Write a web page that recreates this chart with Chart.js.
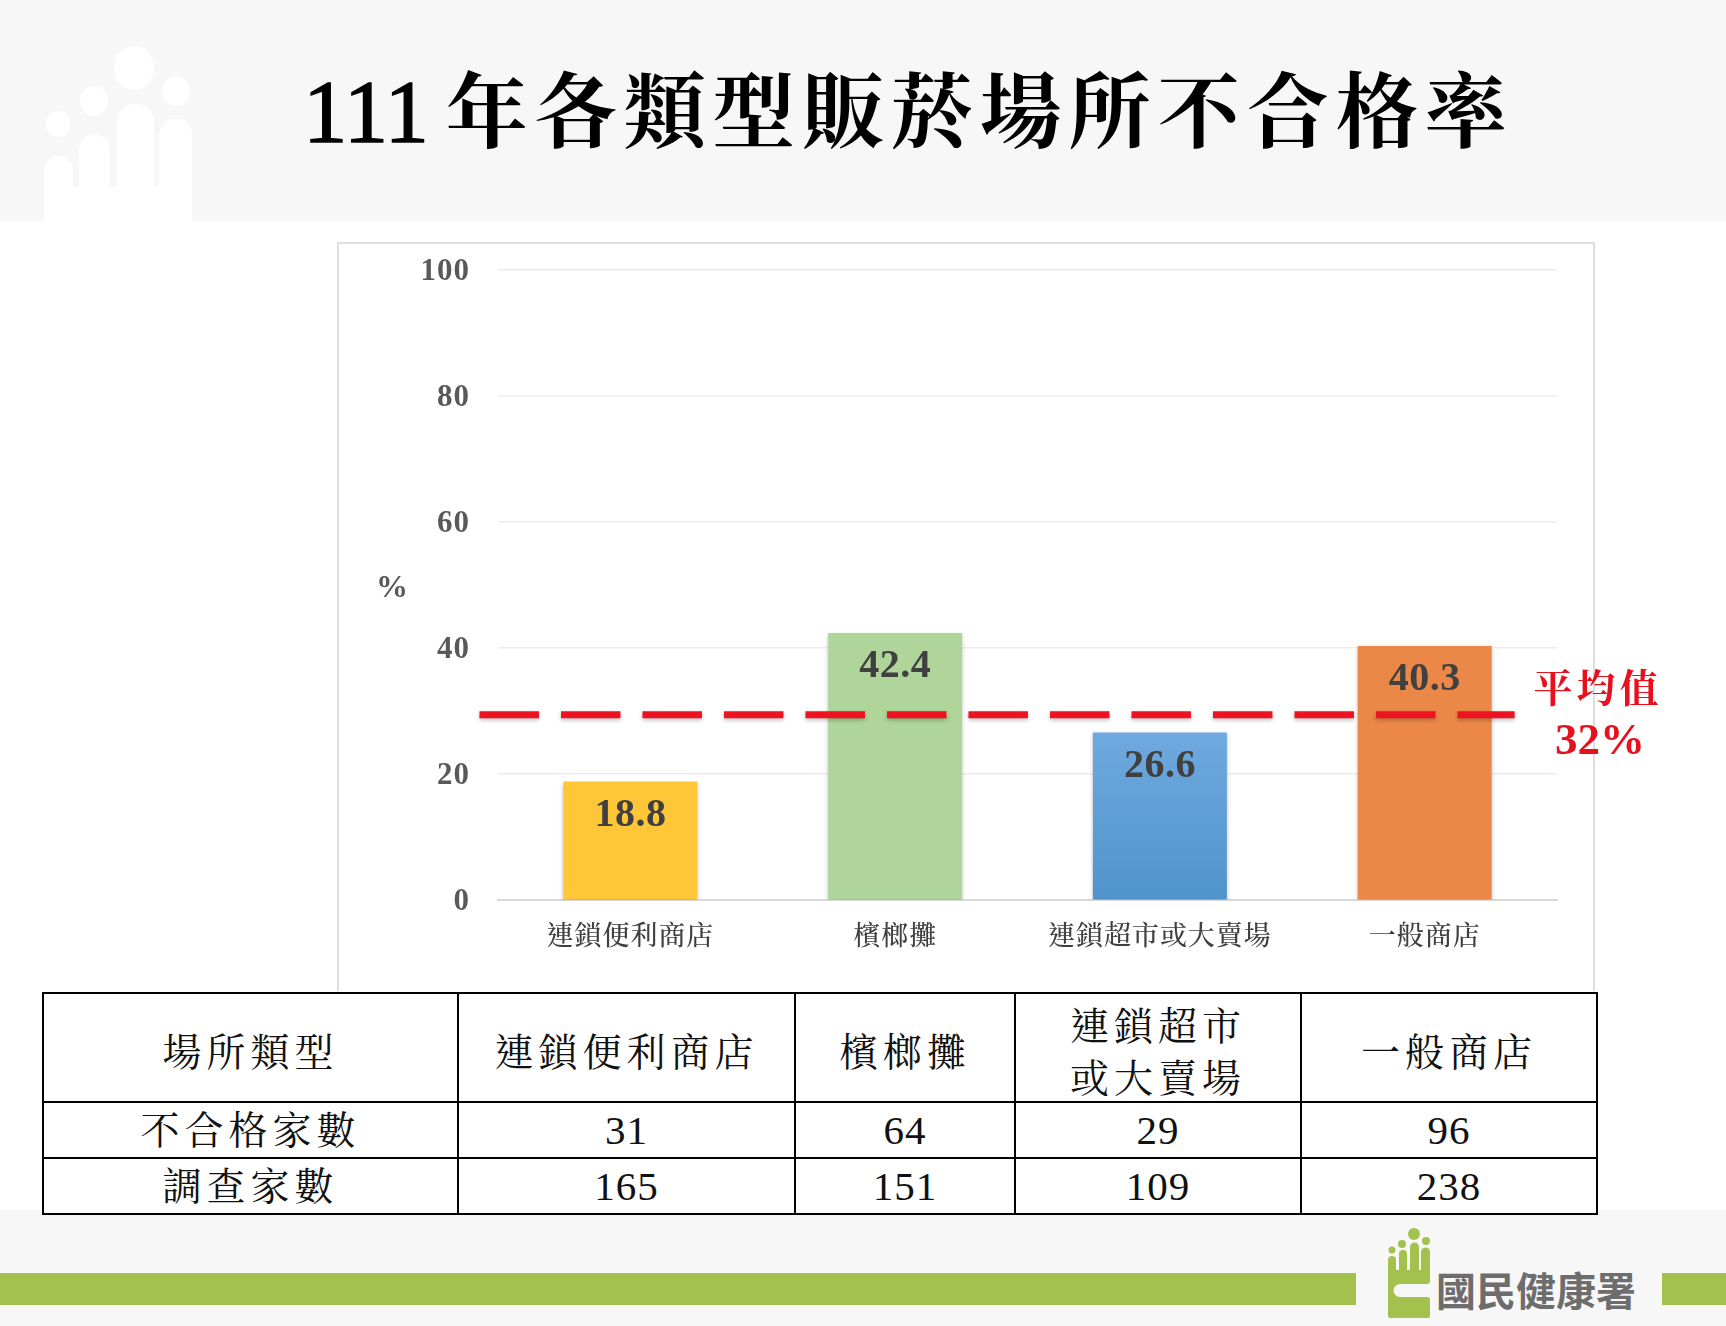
<!DOCTYPE html>
<html lang="zh-Hant">
<head>
<meta charset="utf-8">
<title>111年各類型販菸場所不合格率</title>
<script src="https://cdn.jsdelivr.net/npm/chart.js@4"></script>
<style>
	html, body { margin: 0; padding: 0; background: #fff; }
	body { position: relative; width: 1726px; height: 1326px; overflow: hidden; font-family: 'Liberation Serif', 'Noto Serif CJK TC', 'Noto Sans CJK TC', serif; }
	.band { position: absolute; left: 0; width: 1726px; background: #f7f7f7; }
	.green { position: absolute; top: 1273px; height: 32px; background: #a2c14d; }
	svg.deco { position: absolute; left: 0; top: 0; }
	#title { position: absolute; left: 0; top: 57px; width: 1817px; text-align: center; font-size: 82px; font-weight: 700; line-height: 110px; letter-spacing: 7px; color: #000; white-space: nowrap; }
	#title span { letter-spacing: 0; margin-right: 17px; font-size: 88px; font-weight: 400; -webkit-text-stroke: 1.5px #000; }
	#box { position: absolute; left: 337px; top: 242px; width: 1258px; height: 749px; box-sizing: border-box; border: 2px solid #dedede; border-bottom: 0; }
	#chartWrap { position: absolute; left: 337px; top: 242px; width: 1258px; height: 749px; }
	#unit { position: absolute; left: 376px; top: 568px; font-size: 32px; font-weight: bold; color: #595959; }
	#avg { position: absolute; left: 1520px; top: 663px; width: 156px; text-align: center; color: #e8101c; }
	#avg div:first-child { font-size: 39px; font-weight: 700; line-height: 52px; letter-spacing: 4px; }
	#avg div:last-child { font-size: 45px; line-height: 49px; font-weight: bold; padding-left: 4px; }
	#tbl { position: absolute; left: 42px; top: 992px; width: 1554px; height: 221px; border-collapse: collapse; table-layout: fixed; background: #fff; color: #111; }
	#tbl td { border: 2.5px solid #000; padding: 0; text-align: center; font-size: 39px; letter-spacing: 5px; line-height: 53px; overflow: hidden; }
	#tbl .hd { line-height: 52px; transform: translateY(5px); }
	#tbl td.num { font-size: 41px; letter-spacing: 1px; line-height: 50px; }
	#org { position: absolute; left: 1436px; top: 1264px; font-family: 'Noto Sans CJK TC', sans-serif; font-size: 40px; font-weight: 700; line-height: 50px; color: #6d6d6d; white-space: nowrap; }
</style>
</head>
<body>
<div class="band" style="top:0;height:221px"></div>
<div class="band" style="top:1210px;height:116px"></div>
<div class="green" style="left:0;width:1356px"></div>
<div class="green" style="left:1662px;width:64px"></div>

<svg class="deco" width="1726" height="1326">
	<g fill="#fff">
		<ellipse cx="134" cy="68" rx="20" ry="22"/>
		<ellipse cx="176" cy="91" rx="14" ry="15"/>
		<ellipse cx="94" cy="101" rx="14" ry="15"/>
		<ellipse cx="58" cy="124" rx="12" ry="13"/>
		<path d="M44 221V170a14 14 0 0 1 29 0V187H79V150a15 15 0 0 1 31 0V187H117V122a18 18 0 0 1 37 0V187H159V135a16 16 0 0 1 33 0V221Z"/>
	</g>
	<g fill="#a2c14d">
		<circle cx="1392" cy="1250" r="3.5"/>
		<circle cx="1402" cy="1244" r="4"/>
		<circle cx="1414" cy="1234" r="6"/>
		<circle cx="1426" cy="1241" r="4"/>
		<path d="M1388 1316V1260a4 4 0 0 1 8 0V1270H1399V1254a4 4 0 0 1 8 0V1270H1410V1247a4.500 4.500 0 0 1 9 0V1270H1421V1252a4.500 4.500 0 0 1 9 0V1281a3 3 0 0 1-3 3H1400a5.500 5.500 0 0 0 0 13H1427a3 3 0 0 1 3 3V1316a2 2 0 0 1-2 2H1390a2 2 0 0 1-2-2Z"/>
	</g>
</svg>

<div id="org">國民健康署</div>
<div id="title"><span>111</span>年各類型販菸場所不合格率</div>
<div id="box"></div>
<div id="chartWrap"><canvas id="chart"></canvas></div>
<div id="unit">%</div>
<div id="avg"><div>平均值</div><div>32%</div></div>
<table id="tbl"></table>

<script>
const categories = ['連鎖便利商店', '檳榔攤', '連鎖超市或大賣場', '一般商店'];
const rates = [18.8, 42.4, 26.6, 40.3];
const barColors = ['#ffc738', '#b0d59a', '#5f9fd8', '#ec8847'];
const yTicks = [0, 20, 40, 60, 80, 100];

// the dashed line sits here in the picture, even though its label says 32%
const averageLine = 29.4;
const averageFrom = -0.07;
const averageTo = 3.84;

const tableHead = ['場所類型', '連鎖便利商店', '檳榔攤', '連鎖超市<br>或大賣場', '一般商店'];
const failLabel = '不合格家數';
const failCounts = [31, 64, 29, 96];
const surveyLabel = '調查家數';
const surveyCounts = [165, 151, 109, 238];
const columnWidths = [415, 337, 220, 286, 296];
const rowHeights = [109, 56, 56];

const serif = "'Liberation Serif', 'Noto Serif CJK TC', 'Noto Sans CJK TC', serif";

document.addEventListener('DOMContentLoaded', function() {
	const tbl = document.getElementById('tbl');
	tbl.innerHTML =
		'<colgroup>' + columnWidths.map(w => '<col style="width:' + w + 'px">').join('') + '</colgroup>' +
		'<tr style="height:' + rowHeights[0] + 'px">' + tableHead.map(t => '<td><div class="hd">' + t + '</div></td>').join('') + '</tr>' +
		'<tr style="height:' + rowHeights[1] + 'px"><td>' + failLabel + '</td>' + failCounts.map(n => '<td class="num">' + n + '</td>').join('') + '</tr>' +
		'<tr style="height:' + rowHeights[2] + 'px"><td>' + surveyLabel + '</td>' + surveyCounts.map(n => '<td class="num">' + n + '</td>').join('') + '</tr>';

	const spacing = {
		id: 'spacing',
		beforeDraw(chart) {
			chart.ctx.letterSpacing = '1px';
		}
	};

	// soft shadow under the marks
	const shadow = {
		id: 'shadow',
		beforeDatasetDraw(chart) {
			const ctx = chart.ctx;
			ctx.save();
			ctx.shadowColor = 'rgba(0,0,0,0.25)';
			ctx.shadowBlur = 4;
			ctx.shadowOffsetY = 2;
		},
		afterDatasetDraw(chart) {
			chart.ctx.restore();
		}
	};

	const barLabels = {
		id: 'barLabels',
		afterDatasetsDraw(chart) {
			const ctx = chart.ctx;
			const bars = chart.getDatasetMeta(0).data;
			ctx.save();
			ctx.font = 'bold 40px ' + serif;
			ctx.letterSpacing = '0.5px';
			ctx.fillStyle = '#404040';
			ctx.textAlign = 'center';
			ctx.textBaseline = 'middle';
			bars.forEach((bar, i) => {
				ctx.fillText(rates[i].toFixed(1), bar.x, bar.y + 34);
			});
			ctx.restore();
		}
	};

	const ctx = document.getElementById('chart').getContext('2d');
	new Chart(ctx, {
		type: 'bar',
		data: {
			labels: categories,
			datasets: [
				{
					data: rates,
					order: 2,
					grouped: false,
					barPercentage: 0.506,
					categoryPercentage: 1,
					backgroundColor: function(c) {
						const area = c.chart.chartArea;
						if (c.dataIndex !== 2 || !area) return barColors[c.dataIndex];
						const g = c.chart.ctx.createLinearGradient(0, c.chart.scales.y.getPixelForValue(rates[2]), 0, area.bottom);
						g.addColorStop(0, '#6fa9df');
						g.addColorStop(1, '#4f94cd');
						return g;
					}
				},
				{
					type: 'scatter',
					xAxisID: 'xAvg',
					order: 1,
					clip: false,
					showLine: true,
					pointRadius: 0,
					borderColor: '#ed1320',
					borderWidth: 7,
					borderDash: [59.5, 22],
					data: [{ x: averageFrom, y: averageLine }, { x: averageTo, y: averageLine }]
				}
			]
		},
		plugins: [spacing, shadow, barLabels],
		options: {
			responsive: true,
			maintainAspectRatio: false,
			animation: false,
			layout: { padding: { top: 28, right: 38, left: 0, bottom: 0 } },
			plugins: { legend: { display: false }, tooltip: { enabled: false } },
			scales: {
				x: {
					afterFit: scale => { scale.height = 91; },
					grid: { display: false },
					border: { color: '#d9d9d9', width: 2 },
					ticks: { color: '#404040', font: { family: serif, size: 27, weight: 500 }, padding: 14, maxRotation: 0, autoSkip: false }
				},
				xAvg: { type: 'linear', display: false, offset: false, min: 0, max: 4 },
				y: {
					min: 0,
					max: 100,
					afterFit: scale => {
						scale.width = 161;
						scale.paddingTop = 0;
						scale.paddingBottom = 0;
					},
					afterBuildTicks: scale => { scale.ticks = yTicks.map(v => ({ value: v })); },
					grid: { color: '#ececec', lineWidth: 1.5, drawTicks: false },
					border: { display: false },
					ticks: { color: '#595959', font: { family: serif, size: 31, weight: 'bold' }, padding: 28, labelOffset: 2 }
				}
			}
		}
	});
});
</script>
</body>
</html>
